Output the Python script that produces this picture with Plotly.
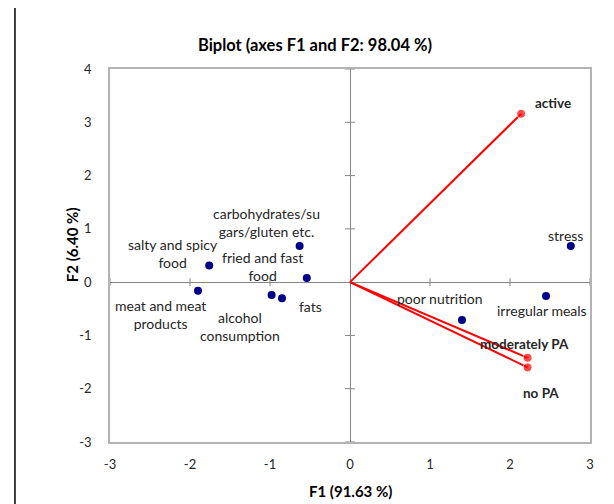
import plotly.graph_objects as go

# Observations (blue points)
obs_names = ["stress", "irregular meals", "poor nutrition", "carbohydrates/su<br>gars/gluten etc.",
             "fried and fast<br>food", "salty and spicy<br>food", "meat and meat<br>products",
             "alcohol<br>consumption", "fats"]
obs_f1 = [2.76, 2.45, 1.40, -0.63, -0.54, -1.76, -1.90, -0.98, -0.85]
obs_f2 = [0.68, -0.26, -0.71, 0.68, 0.08, 0.31, -0.16, -0.24, -0.30]

# Variables (red vectors)
var_names = ["active", "moderately PA", "no PA"]
var_f1 = [2.14, 2.22, 2.22]
var_f2 = [3.16, -1.42, -1.60]

# label offsets in pixels (dx, dy up)
obs_off = [(-5, 10), (-4, -14), (-22, 21), (-33, 23), (-44, 11), (-36, 12), (-38, -24), (-32, -32), (28, -8)]
var_off = [(32, 11), (-3, 14), (13, -26)]

x_ticks = [-3, -2, -1, 0, 1, 2, 3]
x_ticktext = ["-3", "-2", "-1", "0", "1", "2", "3"]
y_ticks = [-3, -2, -1, 0, 1, 2, 3, 4]
y_ticktext = ["-3", "-2", "-1", "0", "1", "2", "3", "4"]

FONT = "Lato"
TXT = "#262626"

fig = go.Figure()

for i in range(len(var_names)):
    fig.add_trace(go.Scatter(
        x=[0, var_f1[i]], y=[0, var_f2[i]], mode="lines+markers",
        line=dict(color="#ff0000", width=2),
        marker=dict(color="#ff0000", size=[0, 9]),
        showlegend=False, hoverinfo="skip"))

fig.add_trace(go.Scatter(
    x=obs_f1, y=obs_f2, mode="markers",
    marker=dict(color="#00008b", size=8),
    showlegend=False))

annotations = []
for n, x, y, (dx, dy) in zip(obs_names, obs_f1, obs_f2, obs_off):
    annotations.append(dict(x=x, y=y, text=n, showarrow=False, xshift=dx, yshift=dy,
                            font=dict(family=FONT, size=14, color=TXT)))
for n, x, y, (dx, dy) in zip(var_names, var_f1, var_f2, var_off):
    annotations.append(dict(x=x, y=y, text="<b>" + n + "</b>", showarrow=False, xshift=dx, yshift=dy,
                            font=dict(family=FONT, size=13.5, color=TXT)))
# axis titles
annotations.append(dict(xref="paper", yref="paper", x=0.5, y=-0.131, text="<b>F1 (91.63 %)</b>",
                        showarrow=False, xanchor="center", yanchor="middle",
                        font=dict(family=FONT, size=15, color="#000000")))
annotations.append(dict(xref="paper", yref="paper", x=-0.079, y=0.528, text="<b>F2 (6.40 %)</b>",
                        showarrow=False, xanchor="center", yanchor="middle", textangle=-90,
                        font=dict(family=FONT, size=15, color="#000000")))

shapes = []
# tick marks crossing the zero axes
for t in x_ticks:
    if t != 0:
        shapes.append(dict(type="line", xref="x", yref="y", x0=t, x1=t, ysizemode="pixel",
                           yanchor=0, y0=-4, y1=4, line=dict(color="#868686", width=1)))
for t in y_ticks:
    if t != 0:
        shapes.append(dict(type="line", xref="x", yref="y", y0=t, y1=t, xsizemode="pixel",
                           xanchor=0, x0=-5, x1=5, line=dict(color="#868686", width=1)))
# outer chart border
shapes.append(dict(type="rect", xref="paper", yref="paper", x0=-0.198, x1=1.1, y0=-0.2, y1=1.166,
                   line=dict(color="#000000", width=1.5), layer="below"))

fig.update_layout(
    width=606, height=496,
    margin=dict(l=102, r=24, t=61, b=62),
    paper_bgcolor="white", plot_bgcolor="white",
    font=dict(family=FONT, size=13, color=TXT),
    title=dict(text="<b>Biplot (axes F1 and F2: 98.04 %)</b>", x=(315 - 8) / 606, xanchor="center",
               y=1 - 37 / 496, yanchor="middle", font=dict(family=FONT, size=16.5, color="#000000")),
    xaxis=dict(range=[-3, 3], tickvals=x_ticks, ticktext=x_ticktext, showgrid=False, zeroline=True,
               automargin=False,
               zerolinecolor="#868686", zerolinewidth=1, showline=True, mirror=True,
               linecolor="#b3b3b3", linewidth=1.5, ticks="", ticklabelstandoff=10),
    yaxis=dict(range=[-3, 4], tickvals=y_ticks, ticktext=y_ticktext, showgrid=False, zeroline=True,
               automargin=False,
               zerolinecolor="#868686", zerolinewidth=1, showline=True, mirror=True,
               linecolor="#b3b3b3", linewidth=1.5, ticks="", ticklabelstandoff=14),
    annotations=annotations,
    shapes=shapes,
)

fig.write_html("out.html")
